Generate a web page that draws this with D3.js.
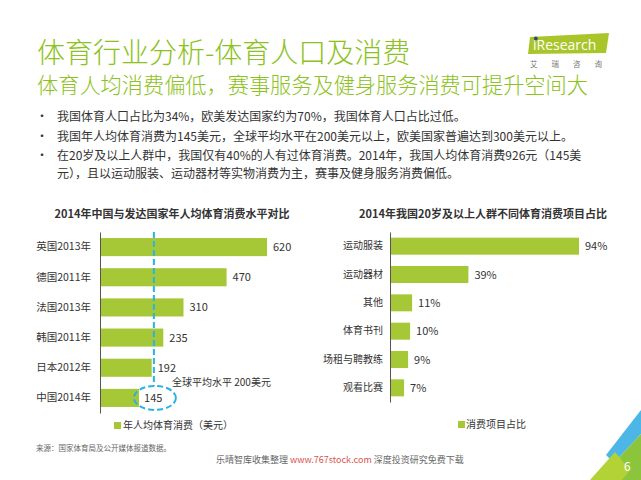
<!DOCTYPE html>
<html><head><meta charset="utf-8">
<script src="https://cdn.jsdelivr.net/npm/d3@7"></script>
<style>
html,body{margin:0;padding:0;background:#fff;}
svg{display:block;font-family:"Noto Sans CJK SC","Noto Sans",sans-serif;}
</style></head>
<body><svg id="c" width="641" height="480"></svg>
<script>
const leftCategories = ['英国2013年','德国2011年','法国2013年','韩国2011年','日本2012年','中国2014年'];
const leftValues = [620,470,310,235,192,145];
const globalAvg = 200;
const rightCategories = ['运动服装','运动器材','其他','体育书刊','场租与聘教练','观看比赛'];
const rightValues = [94,39,11,10,9,7];
const bullets = [
  ['我国体育人口占比为34%，欧美发达国家约为70%，我国体育人口占比过低。'],
  ['我国年人均体育消费为145美元，全球平均水平在200美元以上，欧美国家普遍达到300美元以上。'],
  ['在20岁及以上人群中，我国仅有40%的人有过体育消费。2014年，我国人均体育消费926元（145美','元），且以运动服装、运动器材等实物消费为主，赛事及健身服务消费偏低。']
];

const GREEN='#8cc220', BAR='#a6c837', BLUE='#29b2e6', TXT='#333';
const svg=d3.select('#c');

// Titles
svg.append('text').attr('x',37).attr('y',63).attr('font-size',28).attr('font-weight',300).attr('fill',GREEN).text('体育行业分析-体育人口及消费');
svg.append('text').attr('x',37).attr('y',93).attr('font-size',21.2).attr('font-weight',300).attr('fill',GREEN).text('体育人均消费偏低，赛事服务及健身服务消费可提升空间大');

// logo
const lg=svg.append('g');
lg.append('path').attr('d','M530,37 L609,33 L606,53 L528,54 Z').attr('fill','#a8c62a');
lg.append('text').attr('x',533).attr('y',50).attr('font-size',14).attr('fill','#fff').attr('font-family','Open Sans, sans-serif').text('iResearch');
lg.append('circle').attr('cx',535.8).attr('cy',38.5).attr('r',1.9).attr('fill','#2a4a7a');
lg.append('text').attr('x',530).attr('y',67).attr('font-size',7.5).attr('fill','#777').attr('letter-spacing',14).text('艾瑞咨询');

// bullets
let by=[121,141,160];
bullets.forEach((b,i)=>{
  svg.append('text').attr('x',36).attr('y',by[i]).attr('font-size',12).attr('fill',TXT).text('•');
  const t=svg.append('text').attr('font-size',12).attr('fill',TXT);
  b.forEach((line,j)=>{
    t.append('tspan').attr('x',57).attr('y',by[i]+j*17.5).attr('textLength', null).text(line);
  });
});

// Left chart
svg.append('text').attr('x',172).attr('y',218).attr('text-anchor','middle').attr('font-size',11).attr('font-weight','bold').attr('fill',TXT).text('2014年中国与发达国家年人均体育消费水平对比');
const xL=d3.scaleLinear().domain([0,620]).range([100,267]);
const yL=d3.scaleBand().domain(leftCategories).range([232,413]).paddingInner(0.4).paddingOuter(0.2);
const gL=svg.append('g');
gL.selectAll('rect').data(leftValues).join('rect')
  .attr('x',xL(0)).attr('y',(d,i)=>yL(leftCategories[i])).attr('width',d=>xL(d)-xL(0)).attr('height',yL.bandwidth()).attr('fill',BAR);
gL.selectAll('text.v').data(leftValues).join('text').attr('class','v')
  .attr('x',d=>xL(d)+(d===145?5:6)).attr('y',(d,i)=>yL(leftCategories[i])+yL.bandwidth()/2+4).attr('font-size',11).attr('fill',TXT).text(d=>d);
const axL=svg.append('g').attr('transform',`translate(${xL(0)},0)`).call(d3.axisLeft(yL).tickSize(0).tickPadding(9));
axL.select('.domain').attr('stroke','#555');
axL.selectAll('text').attr('font-size',10.5).attr('fill',TXT).attr('font-family','"Noto Sans CJK SC",sans-serif');
// global avg line + ellipse
const cy=yL('中国2014年')+yL.bandwidth()/2;
svg.append('line').attr('x1',xL(globalAvg)).attr('x2',xL(globalAvg)).attr('y1',232).attr('y2',cy-12)
  .attr('stroke',BLUE).attr('stroke-width',2).attr('stroke-dasharray','6,3');
svg.append('ellipse').attr('cx',xL(globalAvg)+1).attr('cy',cy).attr('rx',21).attr('ry',12)
  .attr('fill','none').attr('stroke',BLUE).attr('stroke-width',2).attr('stroke-dasharray','6,3');
svg.append('text').attr('x',172).attr('y',386).attr('font-size',10).attr('fill',TXT).text('全球平均水平 200美元');
// legend
svg.append('rect').attr('x',114).attr('y',422).attr('width',7).attr('height',7).attr('fill',BAR);
svg.append('text').attr('x',123).attr('y',429).attr('font-size',10).attr('fill',TXT).text('年人均体育消费（美元）');

// Right chart
svg.append('text').attr('x',483).attr('y',218).attr('text-anchor','middle').attr('font-size',11).attr('font-weight','bold').attr('fill',TXT).text('2014年我国20岁及以上人群不同体育消费项目占比');
const xR=d3.scaleLinear().domain([0,94]).range([390,579]);
const yR=d3.scaleBand().domain(rightCategories).range([232,402]).paddingInner(0.4).paddingOuter(0.2);
const gR=svg.append('g');
gR.selectAll('rect').data(rightValues).join('rect')
  .attr('x',xR(0)).attr('y',(d,i)=>yR(rightCategories[i])).attr('width',d=>xR(d)-xR(0)).attr('height',yR.bandwidth()).attr('fill',BAR);
gR.selectAll('text.v').data(rightValues).join('text').attr('class','v')
  .attr('x',d=>xR(d)+6).attr('y',(d,i)=>yR(rightCategories[i])+yR.bandwidth()/2+4).attr('font-size',11).attr('fill',TXT).text(d=>d+'%');
const axR=svg.append('g').attr('transform',`translate(${xR(0)},0)`).call(d3.axisLeft(yR).tickSize(0).tickPadding(7));
axR.select('.domain').attr('stroke','#555');
axR.selectAll('text').attr('font-size',10).attr('fill',TXT).attr('font-family','"Noto Sans CJK SC",sans-serif');
svg.append('rect').attr('x',458).attr('y',421).attr('width',7).attr('height',7).attr('fill',BAR);
svg.append('text').attr('x',466).attr('y',428).attr('font-size',10).attr('fill',TXT).text('消费项目占比');

// source + footer
svg.append('text').attr('x',36).attr('y',451).attr('font-size',7.5).attr('fill','#666').text('来源：国家体育局及公开媒体报道数据。');
const ft=svg.append('text').attr('x',216).attr('y',463).attr('font-size',9).attr('fill','#666');
ft.append('tspan').text('乐晴智库收集整理 ');
ft.append('tspan').attr('fill','#d9534f').text('www.767stock.com');
ft.append('tspan').text(' 深度投资研究免费下载');

// corner decoration
svg.append('path').attr('d','M606,455 L641,410 L641,434 L614,463 Z').attr('fill','#4cb6e6');
svg.append('path').attr('d','M614,463 L641,434 L641,480 L598,480 Z').attr('fill','#8cc43c');
svg.append('path').attr('d','M590,480 L615,452 L630,470 L622,480 Z').attr('fill','#b3d235');
svg.append('text').attr('x',624).attr('y',471).attr('font-size',12).attr('fill','#fff').text('6');
</script></body></html>
